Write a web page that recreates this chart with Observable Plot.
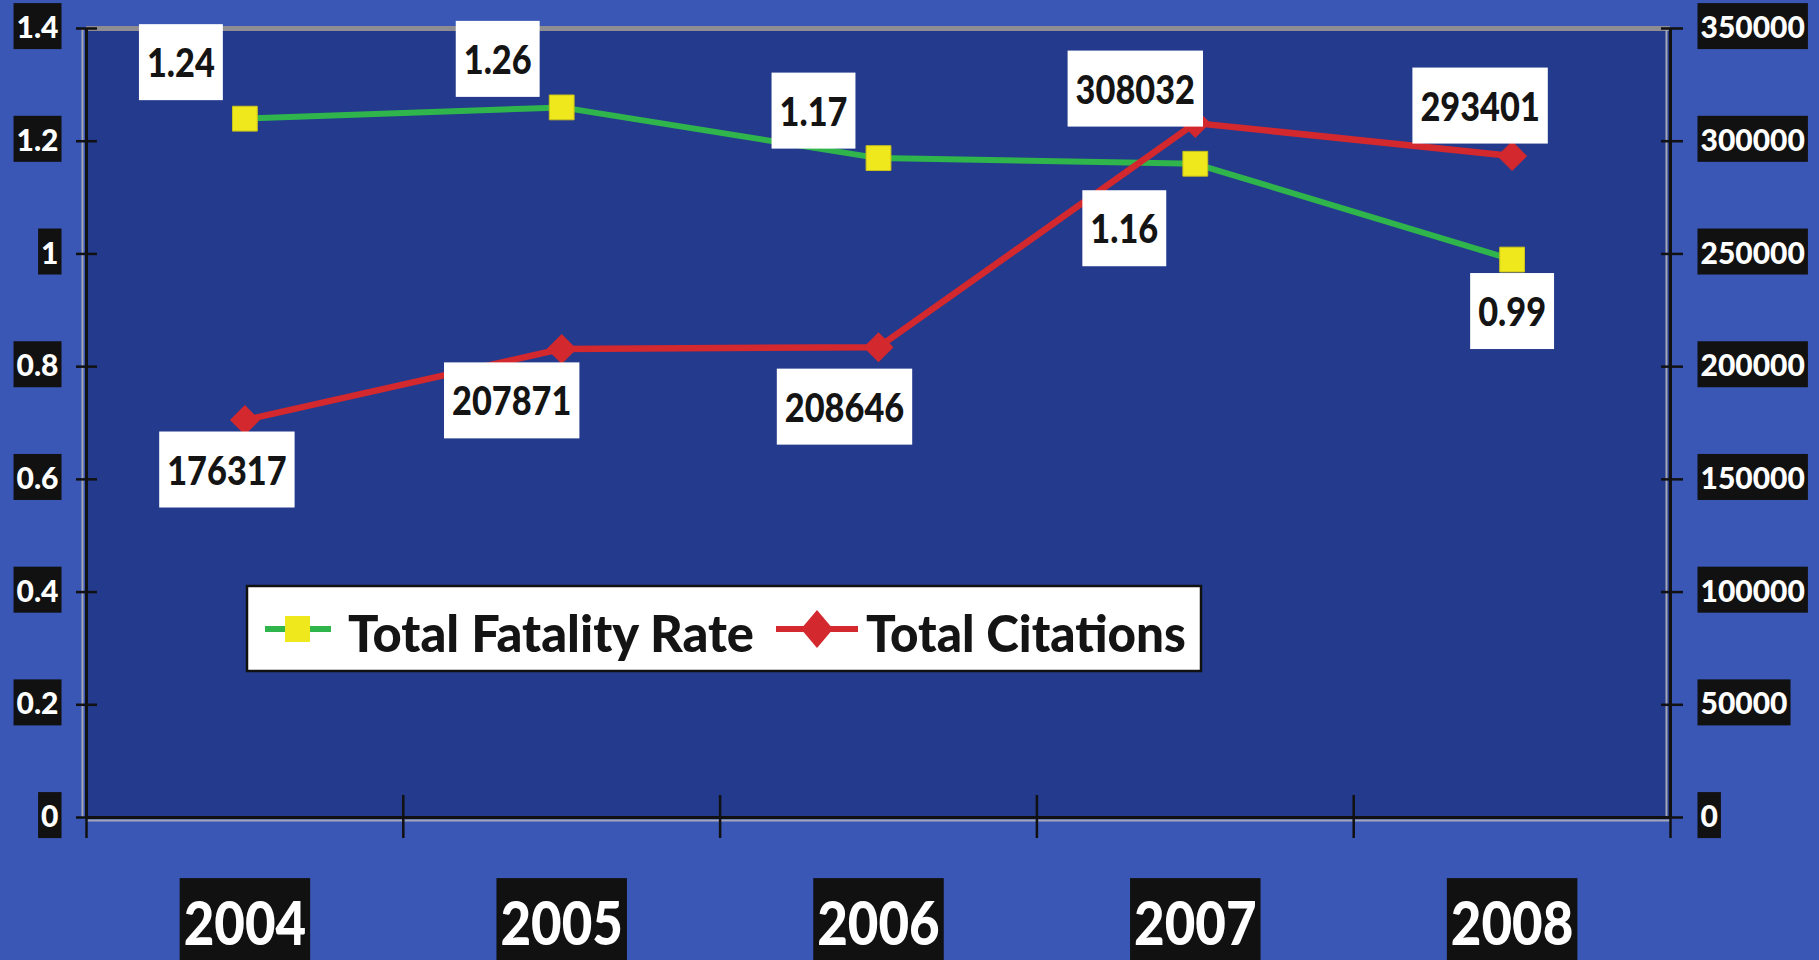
<!DOCTYPE html>
<html>
<head>
<meta charset="utf-8">
<script src="https://cdn.jsdelivr.net/npm/d3@7"></script>
<script src="https://cdn.jsdelivr.net/npm/@observablehq/plot@0.6"></script>
<style>
  html, body { margin: 0; padding: 0; background: #3a57b6; }
  #chart { width: 1819px; height: 960px; overflow: hidden; }
</style>
</head>
<body>
<div id="chart"></div>
<script>
// ---- data ----
const years = [2004, 2005, 2006, 2007, 2008];
const fatalityRate = [1.24, 1.26, 1.17, 1.16, 0.99];
const citations = [176317, 207871, 208646, 308032, 293401];
const leftTicks = [0, 0.2, 0.4, 0.6, 0.8, 1, 1.2, 1.4];
const rightTicks = [0, 50000, 100000, 150000, 200000, 250000, 300000, 350000];
const seriesNames = ["Total Fatality Rate", "Total Citations"];
// label placement offsets (layout only, pixels relative to marker)
const rateLabelOffsets = [[-64, -54], [-64, -46], [-65, -45], [-71, 67], [0, 54]];
const citeLabelOffsets = [[-18, 52], [-50, 54], [-34, 62], [-60, -32], [-32, -48]];

// ---- derived ----
const rightMax = 350000, leftMax = 1.4;
const k = leftMax / rightMax;
const rateData = years.map((year, i) => ({year, value: fatalityRate[i]}));
const citeData = years.map((year, i) => ({year, value: citations[i], yv: citations[i] * k}));
const xBounds = years.map(y => y - 0.5).concat([years[years.length - 1] + 0.5]);

const GREEN = "#2fb54b", YELLOW = "#efe81c", RED = "#d3282d", AXIS = "#111111";
const FONT = "Lato, 'Open Sans', sans-serif";
const WEIGHT = 900;

const marks = [
  Plot.frame({fill: "#233a8d", stroke: null}),
  // light grey edges
  Plot.ruleY([leftMax], {stroke: "#8e8e92", strokeWidth: 5}),
  Plot.ruleY([0], {stroke: "#a4a6b4", strokeWidth: 2, dy: 3}),
  Plot.ruleX([xBounds[0]], {y1: 0, y2: leftMax, stroke: "#a4a6b4", strokeWidth: 2, dx: -4}),
  Plot.ruleX([xBounds[xBounds.length - 1]], {y1: 0, y2: leftMax, stroke: "#a4a6b4", strokeWidth: 2, dx: -4}),
  // axis lines
  Plot.ruleX([xBounds[0], xBounds[xBounds.length - 1]], {y1: 0, y2: leftMax, stroke: AXIS, strokeWidth: 3}),
  Plot.ruleY([0], {stroke: AXIS, strokeWidth: 3}),
  // ticks crossing the axes (tick-only axes)
  Plot.axisX(xBounds, {anchor: "bottom", tickSize: 43, dy: -22, stroke: AXIS, strokeWidth: 2.5, fill: "none", label: null}),
  Plot.axisY(leftTicks, {anchor: "left", tickSize: 21, dx: 11, stroke: AXIS, strokeWidth: 2.5, fill: "none", label: null}),
  Plot.axisY(rightTicks.map(v => v * k), {anchor: "right", tickSize: 22, dx: -10, stroke: AXIS, strokeWidth: 2.5, fill: "none", label: null}),
  // tick labels (text-only axes)
  Plot.axisY(leftTicks, {anchor: "left", tickSize: 0, tickPadding: 28, stroke: "none", fontSize: 30, fontWeight: WEIGHT, fill: "white", label: null, tickFormat: d => String(d)}),
  Plot.axisY(rightTicks.map(v => v * k), {anchor: "right", tickSize: 0, tickPadding: 30, stroke: "none", fontSize: 30, fontWeight: WEIGHT, fill: "white", label: null, tickFormat: d => String(Math.round(d / k))}),
  Plot.axisX(years, {anchor: "bottom", tickSize: 0, tickPadding: 85, stroke: "none", fontSize: 60, fontWeight: WEIGHT, fill: "white", label: null, tickFormat: d => String(d)}),
  // series
  Plot.line(rateData, {x: "year", y: "value", stroke: GREEN, strokeWidth: 6}),
  Plot.line(citeData, {x: "year", y: "yv", stroke: RED, strokeWidth: 6.5}),
  Plot.dot(rateData, {x: "year", y: "value", symbol: "square", r: 14, fill: YELLOW, stroke: "#c9c21a", strokeWidth: 1}),
  Plot.dot(citeData, {x: "year", y: "yv", symbol: "diamond2", r: 13.5, fill: RED, stroke: null}),
  // data labels
  ...rateData.map((d, i) => Plot.text([d], {
    x: "year", y: "value", text: d => d.value.toFixed(2),
    dx: rateLabelOffsets[i][0], dy: rateLabelOffsets[i][1],
    fontSize: 39, fontWeight: WEIGHT, fill: "#141414"
  })),
  ...citeData.map((d, i) => Plot.text([d], {
    x: "year", y: "yv", text: d => String(d.value),
    dx: citeLabelOffsets[i][0], dy: citeLabelOffsets[i][1],
    fontSize: 39, fontWeight: WEIGHT, fill: "#141414"
  }))
];

const svg = Plot.plot({
  width: 1819,
  height: 960,
  marginLeft: 86,
  marginRight: 149,
  marginTop: 28,
  marginBottom: 143,
  style: {background: "transparent", fontFamily: FONT, fontWeight: WEIGHT, overflow: "visible"},
  x: {type: "linear", domain: [xBounds[0], xBounds[xBounds.length - 1]]},
  y: {domain: [0, leftMax]},
  marks
});

document.getElementById("chart").appendChild(svg);

const NS = "http://www.w3.org/2000/svg";
function boxTexts(selector, {fill, padX, padY, padBottom, squeeze = 1}) {
  svg.querySelectorAll(selector).forEach(t => {
    if (!t.textContent.trim()) return;
    if (squeeze !== 1) {
      const L = t.getComputedTextLength();
      t.setAttribute("textLength", (L * squeeze).toFixed(1));
      t.setAttribute("lengthAdjust", "spacingAndGlyphs");
    }
    const b = t.getBBox();
    const r = document.createElementNS(NS, "rect");
    const pb = padBottom == null ? padY : padBottom;
    r.setAttribute("x", b.x - padX);
    r.setAttribute("y", b.y - padY);
    r.setAttribute("width", b.width + 2 * padX);
    r.setAttribute("height", b.height + padY + pb);
    r.setAttribute("fill", fill);
    r.setAttribute("stroke", "none");
    const tr = t.getAttribute("transform");
    if (tr) r.setAttribute("transform", tr);
    t.parentNode.insertBefore(r, t);
  });
}

boxTexts('g[aria-label="y-axis tick label"] text', {fill: "#111", padX: 3, padY: 5});
boxTexts('g[aria-label="x-axis tick label"] text', {fill: "#111", padX: 4, padY: 8, padBottom: 20, squeeze: 0.88});
boxTexts('g[aria-label="text"] text', {fill: "white", padX: 8, padY: 15, squeeze: 0.88});

// ---- legend (inside plot area) ----
const lg = d3.select(svg).append("g")
  .attr("font-family", FONT).attr("font-weight", WEIGHT).attr("text-anchor", "start");
lg.append("rect").attr("x", 247).attr("y", 586).attr("width", 954).attr("height", 85)
  .attr("fill", "white").attr("stroke", "#111").attr("stroke-width", 2.5);
lg.append("line").attr("x1", 265).attr("x2", 331).attr("y1", 629).attr("y2", 629)
  .attr("stroke", GREEN).attr("stroke-width", 6);
lg.append("rect").attr("x", 285).attr("y", 616).attr("width", 25).attr("height", 26).attr("fill", YELLOW);
lg.append("text").attr("x", 348).attr("y", 652).attr("font-size", 52).attr("fill", "#141414")
  .attr("text-anchor", "start")
  .attr("textLength", 406).attr("lengthAdjust", "spacingAndGlyphs").text(seriesNames[0]);
lg.append("line").attr("x1", 776).attr("x2", 858).attr("y1", 629).attr("y2", 629)
  .attr("stroke", RED).attr("stroke-width", 6);
lg.append("path").attr("transform", "translate(817,629)")
  .attr("d", "M0,-19L16,0L0,19L-16,0Z").attr("fill", RED);
lg.append("text").attr("x", 866).attr("y", 652).attr("font-size", 52).attr("fill", "#141414")
  .attr("text-anchor", "start")
  .attr("textLength", 320).attr("lengthAdjust", "spacingAndGlyphs").text(seriesNames[1]);
</script>
</body>
</html>
